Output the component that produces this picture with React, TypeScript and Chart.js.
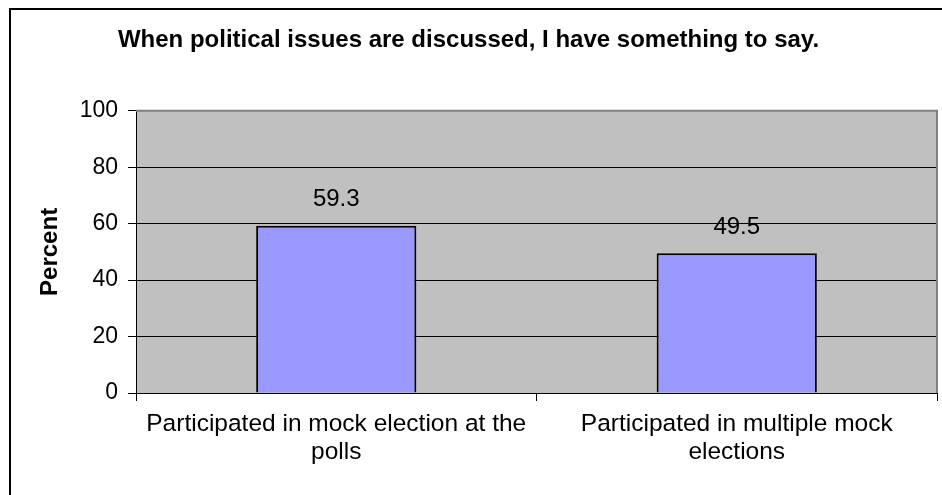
import React, { useEffect, useRef } from "react";
import { Chart, registerables } from "chart.js";

Chart.register(...registerables);

const TITLE = "When political issues are discussed, I have something to say.";
const Y_TITLE = "Percent";
const CATEGORIES: string[][] = [
  ["Participated in mock election at the", "polls"],
  ["Participated in multiple mock", "elections"],
];
const VALUES: number[] = [59.3, 49.5];
const Y_MIN = 0;
const Y_MAX = 100;
const Y_STEP = 20;

const FONT = "'Liberation Sans', Arial, Helvetica, sans-serif";

const framePlugin = {
  id: "frame",
  beforeDraw(chart: any) {
    const { ctx, chartArea } = chart;
    ctx.save();
    ctx.fillStyle = "#ffffff";
    ctx.fillRect(0, 0, chart.width, chart.height);
    ctx.strokeStyle = "#000000";
    ctx.lineWidth = 2;
    ctx.strokeRect(10, 9, chart.width + 20, chart.height + 20);
    ctx.fillStyle = "#C0C0C0";
    ctx.fillRect(chartArea.left, chartArea.top, chartArea.right - chartArea.left, chartArea.bottom - chartArea.top);
    ctx.restore();
  },
  afterDatasetsDraw(chart: any) {
    const { ctx, chartArea } = chart;
    ctx.save();
    ctx.strokeStyle = "#808080";
    ctx.lineWidth = 2;
    ctx.beginPath();
    ctx.moveTo(chartArea.left, chartArea.top);
    ctx.lineTo(chartArea.right, chartArea.top);
    ctx.lineTo(chartArea.right, chartArea.bottom);
    ctx.stroke();
    const meta = chart.getDatasetMeta(0);
    ctx.fillStyle = "#000000";
    ctx.font = `24px ${FONT}`;
    ctx.textAlign = "center";
    ctx.textBaseline = "alphabetic";
    meta.data.forEach((bar: any, i: number) => {
      const v = chart.data.datasets[0].data[i];
      ctx.fillText(String(v), bar.x, bar.y - 19.5);
    });
    ctx.restore();
  },
};

export default function App() {
  const ref = useRef<HTMLCanvasElement | null>(null);
  useEffect(() => {
    document.body.style.margin = "0";
    const canvas = ref.current!;
    const chart = new Chart(canvas, {
      type: "bar",
      data: {
        labels: CATEGORIES,
        datasets: [
          {
            data: VALUES,
            backgroundColor: "#9999FF",
            borderColor: "#000000",
            borderWidth: 2,
            barPercentage: 0.4,
            categoryPercentage: 1,
          },
        ],
      },
      options: {
        responsive: false,
        animation: false,
        devicePixelRatio: 1,
        layout: { padding: { left: 0, right: 5, top: 0, bottom: 0 } },
        plugins: {
          legend: { display: false },
          tooltip: { enabled: false },
          title: {
            display: true,
            text: TITLE,
            color: "#000000",
            font: { family: FONT, size: 24, weight: "bold", lineHeight: 1.2 },
            padding: { top: 26, bottom: 56 },
          },
        },
        scales: {
          x: {
            type: "category",
            offset: true,
            grid: {
              offset: true,
              drawOnChartArea: false,
              drawTicks: true,
              tickLength: 8,
              color: "#000000",
              tickColor: "#000000",
            },
            border: { display: true, color: "#000000", width: 1 },
            ticks: {
              color: "#000000",
              font: { family: FONT, size: 24.5, lineHeight: 1.15 },
              padding: 9,
              maxRotation: 0,
              autoSkip: false,
            },
            afterFit(scale: any) {
              scale.height = 102;
            },
          },
          y: {
            min: Y_MIN,
            max: Y_MAX,
            grid: {
              drawOnChartArea: true,
              drawTicks: true,
              tickLength: 8,
              color: (c: any) => (c.tick && c.tick.value === Y_MAX ? "rgba(0,0,0,0)" : "#000000"),
              tickColor: "#000000",
            },
            border: { display: true, color: "#000000", width: 1 },
            ticks: {
              stepSize: Y_STEP,
              color: "#000000",
              font: { family: FONT, size: 23 },
              padding: 10,
            },
            title: {
              display: true,
              text: Y_TITLE,
              color: "#000000",
              font: { family: FONT, size: 24, weight: "bold", lineHeight: 1.2 },
              padding: { top: 36, bottom: 0 },
            },
            afterFit(scale: any) {
              scale.width = 136;
            },
          },
        },
      },
      plugins: [framePlugin],
    });
    return () => chart.destroy();
  }, []);
  return (
    <div style={{ position: "absolute", left: 0, top: 0, width: 942, height: 495 }}>
      <canvas ref={ref} width={942} height={495} style={{ display: "block", width: 942, height: 495 }} />
    </div>
  );
}
